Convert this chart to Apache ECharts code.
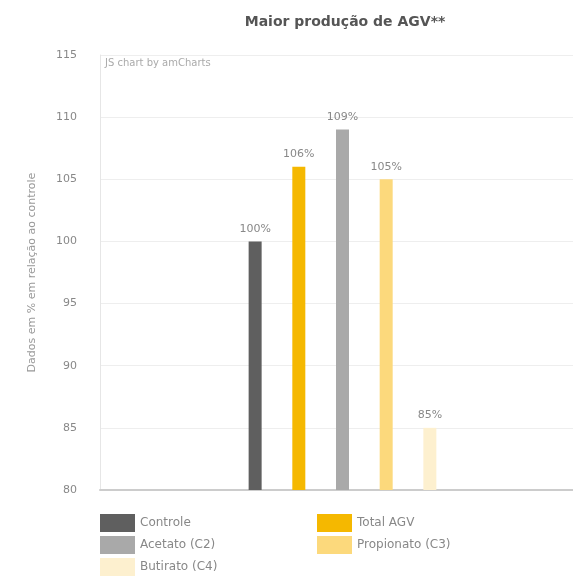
<!DOCTYPE html>
<html><head><meta charset="utf-8">
<script src="https://cdn.jsdelivr.net/npm/echarts@6/dist/echarts.min.js"></script>
<style>html,body{margin:0;padding:0;background:#fff}#c{width:573px;height:581px}</style>
</head><body><div id="c"></div>
<script>
const categories = [''];
const seriesNames = ['Controle', 'Total AGV', 'Acetato (C2)', 'Propionato (C3)', 'Butirato (C4)'];
const seriesValues = [100, 106, 109, 105, 85];
const seriesColors = ['#5f5f5f', '#f5b800', '#a9a9a9', '#fcd97c', '#fdf0cf'];
const yTicks = [80, 85, 90, 95, 100, 105, 110, 115];

const F = 'DejaVu Sans';
const chart = echarts.init(document.getElementById('c'));
const series = seriesNames.map((n, i) => ({
  name: n, type: 'bar', data: [seriesValues[i]], barWidth: 13, barGap: '236%',
  xAxisIndex: 1, yAxisIndex: 1,
  itemStyle: { color: seriesColors[i] },
  label: { show: true, position: 'top', formatter: '{c}%', color: '#888', fontSize: 11, distance: 7, fontFamily: F }
}));
const legText = { color: '#888', fontSize: 12, fontFamily: F };
chart.setOption({
  animation: false,
  title: { text: 'Maior produção de AGV**', left: 340, top: 10, textAlign: 'center',
    textStyle: { fontSize: 14, fontWeight: 'bold', color: '#555', fontFamily: F } },
  graphic: [{ type: 'text', left: 105, top: 58, style: { text: 'JS chart by amCharts', fontSize: 10, fill: '#aaa', fontFamily: F } }],
  legend: [
    { data: ['Controle', 'Acetato (C2)', 'Butirato (C4)'], orient: 'vertical', left: 100, top: 514, padding: 0,
      itemWidth: 35, itemHeight: 18, itemGap: 4, icon: 'rect', textStyle: legText },
    { data: ['Total AGV', 'Propionato (C3)'], orient: 'vertical', left: 317, top: 514, padding: 0,
      itemWidth: 35, itemHeight: 18, itemGap: 4, icon: 'rect', textStyle: legText }
  ],
  grid: [
    { left: 100, right: 0, top: 55, bottom: 91 },
    { left: 112, right: 0, top: 55, bottom: 91 }
  ],
  xAxis: [
    { type: 'category', data: categories, gridIndex: 0,
      axisLine: { lineStyle: { color: '#ccc', width: 2 } }, axisTick: { show: false }, axisLabel: { show: false } },
    { type: 'category', data: categories, gridIndex: 1,
      axisLine: { show: false }, axisTick: { show: false }, axisLabel: { show: false } }
  ],
  yAxis: [
    { type: 'value', min: 80, max: 115, interval: 5, gridIndex: 0,
      name: 'Dados em % em relação ao controle', nameLocation: 'middle', nameGap: 62,
      nameTextStyle: { color: '#999', fontSize: 11, fontFamily: F },
      axisLine: { show: true, lineStyle: { color: '#e6e6e6' } }, axisTick: { show: false },
      axisLabel: { color: '#888', fontSize: 11, margin: 23, fontFamily: F,
        formatter: v => yTicks.includes(v) ? String(v) : '' },
      splitLine: { lineStyle: { color: '#eee' } } },
    { type: 'value', min: 80, max: 115, interval: 5, gridIndex: 1,
      axisLine: { show: false }, axisTick: { show: false }, axisLabel: { show: false }, splitLine: { show: false } }
  ],
  series
});
</script></body></html>
